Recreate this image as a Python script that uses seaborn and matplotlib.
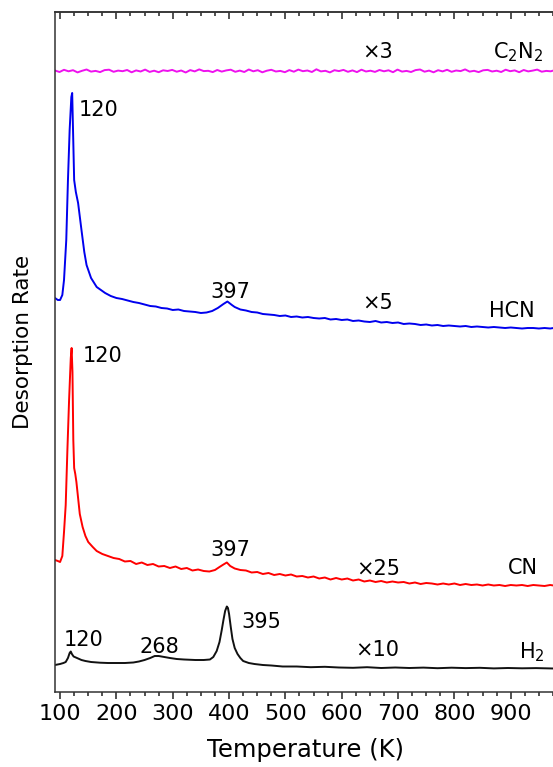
import matplotlib
matplotlib.use("Agg")
import matplotlib.pyplot as plt
from matplotlib.ticker import MultipleLocator, NullLocator
import seaborn as sns
import pandas as pd

sns.set_style("white")
plt.rcParams['font.family'] = ['DejaVu Sans']
plt.rcParams['mathtext.default'] = 'regular'
plt.rcParams['text.color'] = 'black'
plt.rcParams['axes.labelcolor'] = 'black'
plt.rcParams['xtick.color'] = 'black'

# ---------------- data (offset-stacked, arbitrary units) ----------------
c2n2_T = [91, 99, 107, 115, 123, 131, 139, 147, 155, 163, 171, 179, 187, 195, 203, 211, 219, 227,
          235, 243, 251, 259, 267, 275, 283, 291, 299, 307, 315, 323, 331, 339, 347, 355, 363, 371,
          379, 387, 395, 403, 411, 419, 427, 435, 443, 451, 459, 467, 475, 483, 491, 499, 507, 515,
          523, 531, 539, 547, 555, 563, 571, 579, 587, 595, 603, 611, 619, 627, 635, 643, 651, 659,
          667, 675, 683, 691, 699, 707, 715, 723, 731, 739, 747, 755, 763, 771, 779, 787, 795, 803,
          811, 819, 827, 835, 843, 851, 859, 867, 875, 883, 891, 899, 907, 915, 923, 931, 939, 947,
          955, 963, 971, 976]
c2n2_y = [621.5, 620, 622.2, 620.7, 621.8, 619.6, 621.2, 622.5, 620.4, 621.1, 619.9, 621.9, 622.3,
          620.2, 621.4, 620.8, 622, 619.7, 621.6, 620.5, 622.4, 620.1, 621.3, 619.8, 621.7, 621,
          622.1, 620.3, 621.5, 619.5, 621.9, 620.6, 622.6, 620.9, 621.2, 619.9, 622, 620.4, 621.6,
          622.3, 620.2, 621.4, 620, 622.5, 620.7, 621.8, 619.7, 621.3, 622.2, 620.5, 621.1, 619.8,
          621.9, 620.3, 622.4, 620.8, 621.5, 620, 622.7, 620.6, 621.2, 619.6, 621.8, 620.9, 622.1,
          620.2, 621.6, 619.9, 622.3, 620.5, 621.3, 620.1, 622, 620.7, 621.7, 619.8, 622.4, 620.4,
          621.1, 620, 621.9, 622.5, 620.3, 621.4, 619.7, 621.8, 620.6, 622.2, 620.2, 621.5, 620.9,
          622.6, 620.4, 621.2, 619.9, 621.7, 622.1, 620.5, 621.3, 620, 622.3, 620.8, 621.6, 619.8,
          622, 620.6, 621.4, 622.4, 620.3, 621.1, 620.7, 621.5]

hcn_T = [91, 96, 100, 104, 107, 111, 114, 117, 120, 121.5, 123, 125, 128, 132, 138, 143, 147, 155,
         165, 180, 190, 200, 210, 220, 230, 240, 250, 260, 270, 280, 290, 300, 310, 320, 330, 340,
         350, 360, 370, 380, 390, 397, 405, 410, 420, 430, 440, 450, 460, 470, 480, 490, 500, 510,
         520, 530, 540, 550, 560, 570, 580, 590, 600, 610, 620, 630, 640, 650, 660, 670, 680, 690,
         700, 710, 720, 730, 740, 750, 760, 770, 780, 790, 800, 810, 820, 830, 840, 850, 860, 870,
         880, 890, 900, 910, 920, 930, 940, 950, 960, 970, 976]
hcn_y = [394, 392, 392, 397, 412, 452, 512, 562, 595, 599, 562, 512, 500, 489, 462, 440, 427, 414,
         405, 399, 396, 394, 393, 391.5, 390, 389, 387.5, 386, 385.5, 384, 383.5, 382, 382.5, 381,
         380.5, 380, 379, 379.5, 381, 384, 388, 390.5, 387, 385, 382.5, 381.5, 380, 379.5, 378,
         377.5, 377, 376, 376.5, 375, 375.5, 374.5, 375, 374, 373.5, 374, 372.5, 373, 372, 372.5,
         371, 371.5, 370.5, 370, 371, 369.5, 370, 369, 369.5, 368, 368.5, 368, 367, 367.5, 366.5,
         367, 366, 366.5, 366, 365.5, 366, 365, 365.5, 365, 364.5, 365, 364.5, 364, 364.5, 364,
         363.5, 364, 364, 363.5, 364, 363.5, 364]

cn_T = [91, 96, 100, 104, 107, 110, 113, 116, 119, 120.5, 122, 123.5, 125, 127, 129, 132, 135, 140,
        145, 150, 158, 165, 175, 185, 195, 205, 215, 225, 235, 245, 255, 265, 275, 285, 295, 305,
        315, 325, 335, 345, 355, 365, 375, 383, 390, 396, 402, 410, 420, 430, 440, 450, 460, 470,
        480, 490, 500, 510, 520, 530, 540, 550, 560, 570, 580, 590, 600, 610, 620, 630, 640, 650,
        660, 670, 680, 690, 700, 710, 720, 730, 740, 750, 760, 770, 780, 790, 800, 810, 820, 830,
        840, 850, 860, 870, 880, 890, 900, 910, 920, 930, 940, 950, 960, 970, 976]
cn_y = [132, 131, 130, 136, 160, 187, 242, 292, 334, 344, 320, 252, 224, 218, 210, 194, 178, 165,
        156, 150, 145, 141, 138, 136, 134, 133, 130.5, 131, 128, 129.5, 127, 128, 125.5, 126, 124,
        125.5, 123, 124, 121.5, 122.5, 121, 120.5, 122, 125, 127.5, 129.5, 126, 123.5, 122, 121.5,
        119.5, 120, 118, 119, 117, 118, 116.5, 117.5, 115.5, 116, 114.5, 115.5, 113.5, 114.5, 112.5,
        114, 112.5, 113.5, 111.5, 112.5, 110.5, 111.5, 110, 111, 109.5, 110.5, 109.5, 110, 108.5,
        109.5, 108, 109, 108.5, 107.5, 108.5, 107.5, 108.5, 107, 108, 107, 107.5, 106.5, 107.5,
        106.5, 107, 106, 107, 106.5, 107, 106, 107, 106.5, 106, 107, 106.5]

h2_T = [91, 100, 106, 110, 114, 117, 119, 121, 124, 130, 138, 145, 155, 171, 185, 200, 215, 230,
        240, 250, 260, 268, 275, 285, 295, 307, 320, 340, 355, 366, 372, 378, 383, 387, 390, 393,
        396, 398, 400, 403, 406, 410, 415, 420, 425, 435, 445, 460, 475, 495, 520, 545, 570, 595,
        620, 645, 670, 695, 720, 745, 770, 795, 820, 845, 870, 895, 920, 945, 976]
h2_y = [27, 28, 29, 30, 34, 39, 40.5, 38, 35.5, 34, 32, 31, 30, 29.3, 29, 29, 29, 29.5, 30.5, 32,
        34, 36, 36, 35, 34, 33, 32.5, 32, 32, 32.5, 35, 41, 50, 62, 72, 81, 85.5, 84, 78, 65, 53,
        44, 38, 34, 31, 29, 28, 27, 26.5, 25.5, 25.5, 24.8, 25.2, 24.5, 24.2, 24.8, 24, 24.5, 24,
        24.4, 23.8, 24.3, 23.9, 24.2, 23.6, 24, 23.7, 23.9, 23.5]

series = [
    ("C2N2", c2n2_T, c2n2_y, "#ee11ee"),
    ("HCN", hcn_T, hcn_y, "#0000ee"),
    ("CN", cn_T, cn_y, "#ff0000"),
    ("H2", h2_T, h2_y, "#111111"),
]

# annotations: (text, T, y)
labels = [
    ("\u00d73", 664, 640), ("C$_2$N$_2$", 913, 640),
    ("120", 169, 582), ("397", 403, 400), ("\u00d75", 664, 389), ("HCN", 902, 381),
    ("120", 176, 336), ("397", 402, 142), ("\u00d725", 664, 123), ("CN", 922, 124),
    ("120", 141, 52), ("268", 276, 45), ("395", 458, 70), ("\u00d710", 663, 42), ("H$_2$", 938, 40),
]

# ---------------- figure ----------------
fig = plt.figure(figsize=(5.53, 7.67), dpi=100)
ax = fig.add_axes([55 / 553, 75 / 767, 498 / 553, 680.3 / 767])

for name, T, y, col in series:
    df = pd.DataFrame({"T": T, "y": y})
    sns.lineplot(data=df, x="T", y="y", ax=ax, color=col, lw=1.4, estimator=None, sort=False)

for txt, tx, ty in labels:
    ax.text(tx, ty, txt, ha="center", va="center", fontsize=15, color="black")

ax.set_xlim(91, 975)
ax.set_ylim(0, 680.3)

ax.xaxis.set_major_locator(MultipleLocator(100))
ax.xaxis.set_minor_locator(MultipleLocator(25))
ax.yaxis.set_major_locator(NullLocator())
ax.tick_params(axis="x", which="both", direction="out", top=False, bottom=True,
               labelsize=16, pad=4, color="#222222", labelcolor="black", width=1.1)
ax.tick_params(axis="x", which="major", length=5)
ax.tick_params(axis="x", which="minor", length=2.6)

sec = ax.secondary_xaxis("top")
sec.xaxis.set_major_locator(MultipleLocator(100))
sec.xaxis.set_minor_locator(MultipleLocator(25))
sec.tick_params(axis="x", which="both", direction="in", labeltop=False, color="#222222", width=1.1)
sec.tick_params(axis="x", which="major", length=5)
sec.tick_params(axis="x", which="minor", length=2.6)
sec.spines["top"].set_linewidth(1.1)
sec.spines["top"].set_color("#333333")

for s in ["left", "bottom", "top"]:
    ax.spines[s].set_visible(True)
    ax.spines[s].set_linewidth(1.1)
    ax.spines[s].set_color("#333333")
ax.spines["right"].set_visible(False)

ax.set_xlabel("Temperature (K)", fontsize=17.5, color="black")
ax.xaxis.set_label_coords(0.504, -0.068)
ax.set_ylabel("Desorption Rate", fontsize=15.5, color="black")
ax.yaxis.set_label_coords(-0.044, 0.514)

fig.savefig("out.png", dpi=100, facecolor="white")
